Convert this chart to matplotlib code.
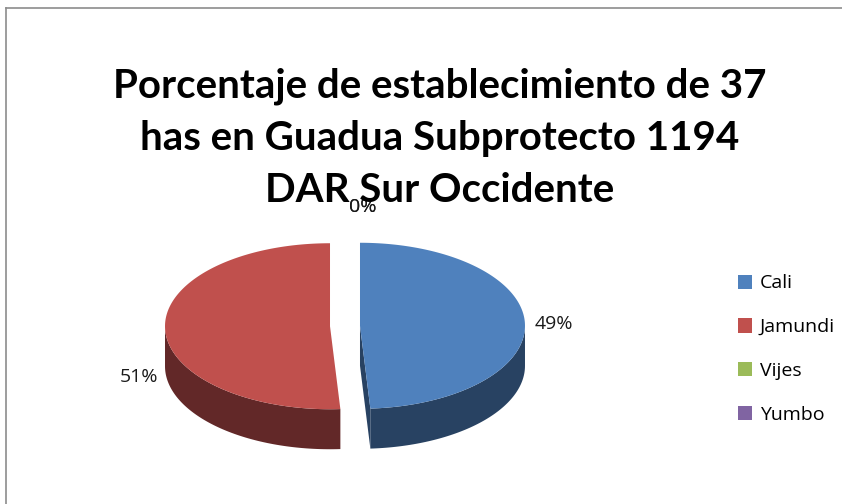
import numpy as np
import matplotlib.pyplot as plt
from matplotlib.patches import Polygon, Patch

# data
categories = ["Cali", "Jamundi", "Vijes", "Yumbo"]
values = [49, 51, 0, 0]
colors_top = ["#4F81BD", "#C0504D", "#9BBB59", "#8064A2"]
colors_side = ["#284262", "#622828", "#4F6130", "#403253"]
title = "Porcentaje de establecimiento de 37\nhas en Guadua Subprotecto 1194\nDAR Sur Occidente"

# layout (pixels)
W, H = 842, 504
cx, cy = 345, 326
a, b = 165, 83
depth = 40
explode = 15
label_dy = [-2, 51, -119, -119]

fig = plt.figure(figsize=(W / 100, H / 100), dpi=100)
ax = fig.add_axes([0, 0, 1, 1])
ax.set_xlim(0, W)
ax.set_ylim(H, 0)
ax.axis("off")

# chart border
ax.plot([6, W], [8, 8], color="#8c8c8c", lw=1.2)
ax.plot([6, 6], [8, H], color="#8c8c8c", lw=1.2)


def pt(ox, oy, th, dz=0):
    return ox + a * np.cos(th), oy - b * np.sin(th) + dz


total = sum(values)
cum = 0.0
for i, v in enumerate(values):
    frac = v / total
    t0 = np.radians(90 - cum * 360)            # ccw edge
    t1 = np.radians(90 - (cum + frac) * 360)   # cw edge
    cum += frac
    mid = (t0 + t1) / 2
    ox = cx + explode * np.cos(mid)
    oy = cy - explode * np.sin(mid) * b / a

    lab = f"{round(frac * 100):.0f}%"
    if frac > 0:
        # radial faces
        for th, nrm in ((t0, t0 + np.pi / 2), (t1, t1 - np.pi / 2)):
            if np.sin(nrm) < -1e-6:
                x1, y1 = pt(ox, oy, th)
                face = [(ox, oy), (x1, y1), (x1, y1 + depth), (ox, oy + depth)]
                ax.add_patch(Polygon(face, closed=True, fc=colors_side[i], ec="none"))
        # outer side wall (front half only)
        for k in (-1, 0, 1):
            lo = max(t1, -np.pi + 2 * np.pi * k)
            hi = min(t0, 2 * np.pi * k)
            if hi > lo:
                th = np.linspace(lo, hi, 80)
                xs, ys = pt(ox, oy, th)
                poly = np.column_stack([np.r_[xs, xs[::-1]], np.r_[ys, ys[::-1] + depth]])
                ax.add_patch(Polygon(poly, closed=True, fc=colors_side[i], ec="none"))
        # top face
        th = np.linspace(t1, t0, 200)
        xs, ys = pt(ox, oy, th)
        top = np.column_stack([np.r_[ox, xs], np.r_[oy, ys]])
        ax.add_patch(Polygon(top, closed=True, fc=colors_top[i], ec="none"))

    # data labels
    c = np.cos(mid)
    if frac == 0:
        lx, ha = cx + 4, "left"
        ly = cy - b + label_dy[i] + 83
    elif c >= 0:
        lx, ha = ox + a + 10, "left"
        ly = oy + label_dy[i]
    else:
        lx, ha = ox - a - 7, "right"
        ly = oy + label_dy[i]
    ax.text(lx, ly, lab, ha=ha, va="center", fontsize=14, family="Open Sans",
            color="#1a1a1a")

ax.text(440, 138, title, ha="center", va="center", fontsize=29, fontweight="bold",
        family="Lato", linespacing=1.5, color="black")

handles = [Patch(fc=c, ec="none") for c in colors_top]
ax.legend(handles, categories, loc="upper left", bbox_to_anchor=(720 / W, 1 - 257 / H),
          frameon=False, handlelength=0.75, handleheight=0.75,
          handletextpad=0.4, labelspacing=1.32, prop={"family": "Open Sans", "size": 14})

fig.savefig("out.png", dpi=100)
